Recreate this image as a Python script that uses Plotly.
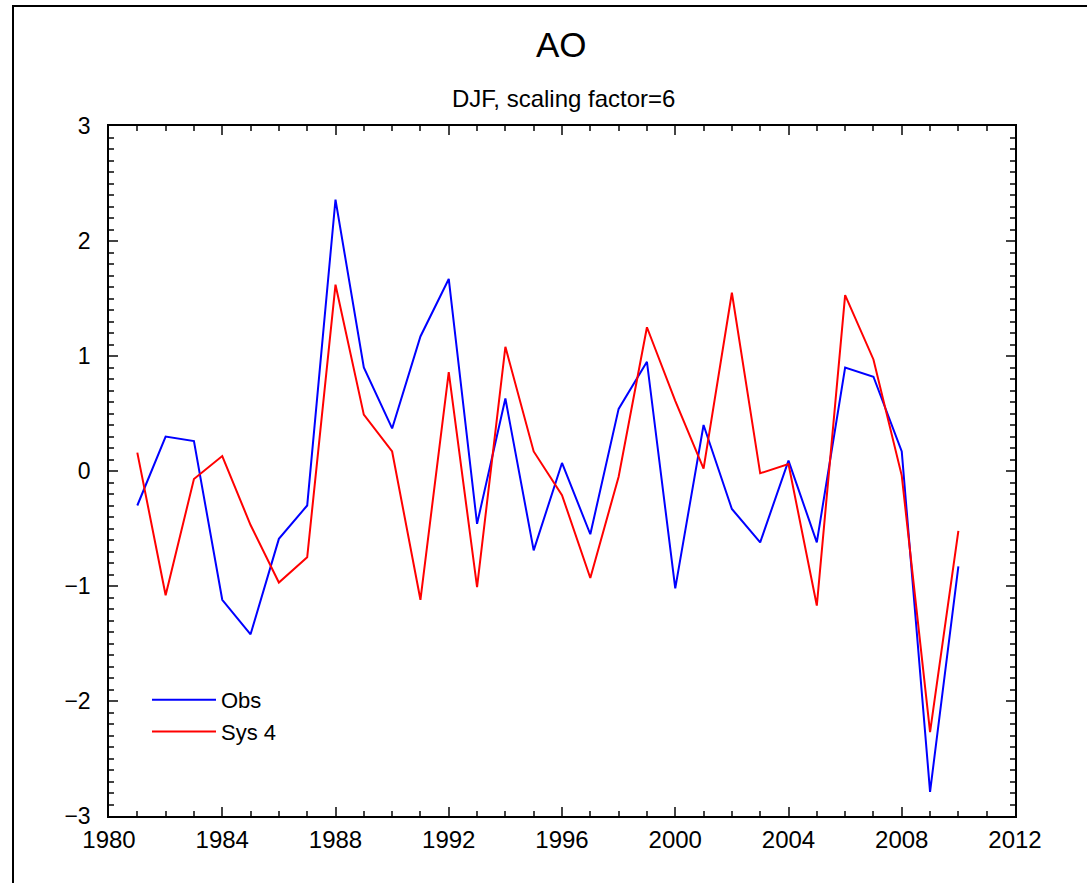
import plotly.graph_objects as go

years = list(range(1981, 2011))
obs = [-0.30, 0.30, 0.26, -1.12, -1.42, -0.59, -0.30, 2.36, 0.90, 0.37,
       1.17, 1.67, -0.46, 0.63, -0.69, 0.07, -0.55, 0.54, 0.95, -1.02,
       0.40, -0.33, -0.62, 0.09, -0.62, 0.90, 0.82, 0.17, -2.79, -0.83]
sys4 = [0.16, -1.08, -0.07, 0.13, -0.47, -0.97, -0.75, 1.62, 0.49, 0.17,
        -1.12, 0.86, -1.01, 1.08, 0.17, -0.21, -0.93, -0.05, 1.25, 0.61,
        0.02, 1.55, -0.02, 0.06, -1.17, 1.53, 0.97, -0.04, -2.27, -0.52]

FONT = "Liberation Sans, Arial, Helvetica, sans-serif"

fig = go.Figure()
fig.add_trace(go.Scatter(x=years, y=obs, mode="lines", name="Obs",
                         line=dict(color="#0000ff", width=2)))
fig.add_trace(go.Scatter(x=years, y=sys4, mode="lines", name="Sys 4",
                         line=dict(color="#ff0000", width=2)))

W, H = 1087, 883
L, R, T, B = 109, 1015, 126, 816
pw, ph = R - L, B - T

def px(x):
    return (x - L) / pw

def py(y):
    return (B - y) / ph

axis_common = dict(showline=True, linecolor="black", linewidth=1.5, mirror="allticks",
                   ticks="inside", ticklen=9, tickwidth=1.5, tickcolor="#444",
                   showgrid=False, zeroline=False)

fig.update_xaxes(range=[1980, 2012], tick0=1980, dtick=4,
                 minor=dict(dtick=1, ticks="inside", ticklen=5, tickcolor="#444", showgrid=False),
                 tickfont=dict(family=FONT, size=24, color="black"),
                 ticklabelstandoff=1, **axis_common)
fig.update_yaxes(range=[-3, 3], tick0=-3, dtick=1,
                 minor=dict(dtick=0.1, ticks="inside", ticklen=5, tickcolor="#444", showgrid=False),
                 tickfont=dict(family=FONT, size=23, color="black"),
                 ticklabelstandoff=12, **axis_common)

fig.add_shape(type="rect", xref="paper", yref="paper",
              x0=px(13), x1=px(1100), y0=py(900), y1=py(6),
              line=dict(color="black", width=2), fillcolor="rgba(0,0,0,0)", layer="below")

fig.add_annotation(text="AO", xref="paper", yref="paper", x=px(561), y=py(44),
                   showarrow=False, font=dict(family=FONT, size=35, color="black"),
                   xanchor="center", yanchor="middle")
fig.add_annotation(text="DJF, scaling factor=6", xref="paper", yref="paper", x=px(563), y=py(98),
                   showarrow=False, font=dict(family=FONT, size=24, color="black"),
                   xanchor="center", yanchor="middle")

fig.update_layout(
    width=W, height=H,
    margin=dict(l=L, r=W - R, t=T, b=H - B, pad=0),
    paper_bgcolor="white", plot_bgcolor="white",
    showlegend=True,
    legend=dict(x=px(147), y=py(679), xanchor="left", yanchor="top",
                bgcolor="rgba(0,0,0,0)", font=dict(family=FONT, size=22, color="black"),
                itemwidth=64, tracegroupgap=0),
    font=dict(family=FONT),
)

fig.write_html("out.html")
